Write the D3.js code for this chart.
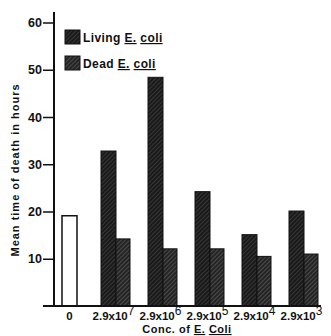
<!DOCTYPE html>
<html lang="en">
<head>
<meta charset="utf-8" />
<title>Mean time of death</title>
<script src="https://d3js.org/d3.v7.min.js"></script>
<style>
  body { margin: 0; background: #fff; }
  text { font-family: "Liberation Sans", Arial, sans-serif; font-weight: bold; fill: #111; }
</style>
</head>
<body>
<div id="chart"></div>
<script>
// values
var categories = ["0", "7", "6", "5", "4", "3"];
var exponents = [null, 7, 6, 5, 4, 3];
var control = [19.1];
var living = [32.8, 48.4, 24.2, 15.1, 20.1];
var dead = [14.2, 12.1, 12.1, 10.5, 11.0];
var yTicks = [10, 20, 30, 40, 50, 60];

var width = 331, height = 336;

var svg = d3.select("#chart").append("svg")
  .attr("width", width)
  .attr("height", height);

// hatch patterns
var defs = svg.append("defs");
function hatch(id, bg, line, w) {
  var p = defs.append("pattern")
    .attr("id", id)
    .attr("patternUnits", "userSpaceOnUse")
    .attr("width", 3).attr("height", 3)
    .attr("patternTransform", "rotate(45)");
  p.append("rect").attr("width", 3).attr("height", 3).attr("fill", bg);
  p.append("line").attr("x1", 0).attr("y1", 0).attr("x2", 0).attr("y2", 3)
    .attr("stroke", line).attr("stroke-width", w);
}
hatch("liv", "#1a1a1a", "#5e5e5e", 0.8);
hatch("ded", "#242424", "#7a7a7a", 0.9);

var x = d3.scaleBand().domain(categories).range([46, 328]).padding(0);
var y = d3.scaleLinear().domain([0, 60]).range([306, 22.5]);
var barW = 15;

// control bar (white)
svg.selectAll(".ctrl").data(control).enter().append("rect")
  .attr("x", x("0") + x.bandwidth() / 2 - barW / 2)
  .attr("y", function(d) { return y(d); })
  .attr("width", barW)
  .attr("height", function(d) { return y(0) - y(d); })
  .attr("fill", "#fff").attr("stroke", "#111").attr("stroke-width", 1.5);

var groups = categories.slice(1);

svg.selectAll(".liv").data(living).enter().append("rect")
  .attr("x", function(d, i) { return x(groups[i]) + x.bandwidth() / 2 - barW - 0.5; })
  .attr("y", function(d) { return y(d); })
  .attr("width", barW)
  .attr("height", function(d) { return y(0) - y(d); })
  .attr("fill", "url(#liv)").attr("stroke", "#111").attr("stroke-width", 1);

svg.selectAll(".ded").data(dead).enter().append("rect")
  .attr("x", function(d, i) { return x(groups[i]) + x.bandwidth() / 2 - 0.5; })
  .attr("y", function(d) { return y(d); })
  .attr("width", barW - 1)
  .attr("height", function(d) { return y(0) - y(d); })
  .attr("fill", "url(#ded)").attr("stroke", "#111").attr("stroke-width", 1);

// y axis
var yAxis = d3.axisLeft(y).tickValues(yTicks).tickSize(11).tickPadding(1);
var ya = svg.append("g").attr("transform", "translate(54,0)").call(yAxis);
ya.select(".domain").remove();
ya.selectAll(".tick line").attr("stroke", "#111").attr("stroke-width", 1.5);
ya.selectAll(".tick text").style("font-size", "12.5px").style("font-family", "Liberation Sans, Arial, sans-serif")
  .style("font-weight", "bold").attr("fill", "#111");
svg.append("line").attr("x1", 54).attr("x2", 54).attr("y1", 12).attr("y2", y(0))
  .attr("stroke", "#111").attr("stroke-width", 2);

// baseline
svg.append("line").attr("x1", 43).attr("x2", 321).attr("y1", y(0)).attr("y2", y(0))
  .attr("stroke", "#111").attr("stroke-width", 2);

// x labels
categories.forEach(function(c, i) {
  var t = svg.append("text")
    .attr("x", x(c) + x.bandwidth() / 2 - (i ? 3 : 0))
    .attr("y", 320)
    .attr("text-anchor", "middle")
    .style("font-size", "11.5px");
  if (exponents[i] == null) {
    t.text(c);
  } else {
    t.append("tspan").text("2.9x10");
    t.append("tspan").attr("dy", -5).style("font-size", "12px").style("font-weight", "normal").text(exponents[i]);
  }
});

// axis titles
var xt = svg.append("text").attr("x", 187).attr("y", 333).attr("text-anchor", "middle")
  .style("font-size", "11px").style("letter-spacing", "0.5px");
xt.append("tspan").text("Conc. of ");
xt.append("tspan").style("text-decoration", "underline").text("E.");
xt.append("tspan").text(" ");
xt.append("tspan").style("text-decoration", "underline").text("Coli");

svg.append("text")
  .attr("transform", "translate(19,170) rotate(-90)")
  .attr("text-anchor", "middle")
  .style("font-size", "11px")
  .style("letter-spacing", "1px")
  .text("Mean time of death in hours");

// legend
var legend = [
  { label: "Living", fill: "url(#liv)", y: 30 },
  { label: "Dead", fill: "url(#ded)", y: 56 }
];
legend.forEach(function(l) {
  svg.append("rect").attr("x", 65).attr("y", l.y).attr("width", 15).attr("height", 14)
    .attr("fill", l.fill).attr("stroke", "#111").attr("stroke-width", 1);
  var t = svg.append("text").attr("x", 83).attr("y", l.y + 12)
    .style("font-size", "12px").style("letter-spacing", "0.4px");
  t.append("tspan").text(l.label + " ");
  t.append("tspan").style("text-decoration", "underline").text("E.");
  t.append("tspan").text(" ");
  t.append("tspan").style("text-decoration", "underline").text("coli");
});
</script>
</body>
</html>
